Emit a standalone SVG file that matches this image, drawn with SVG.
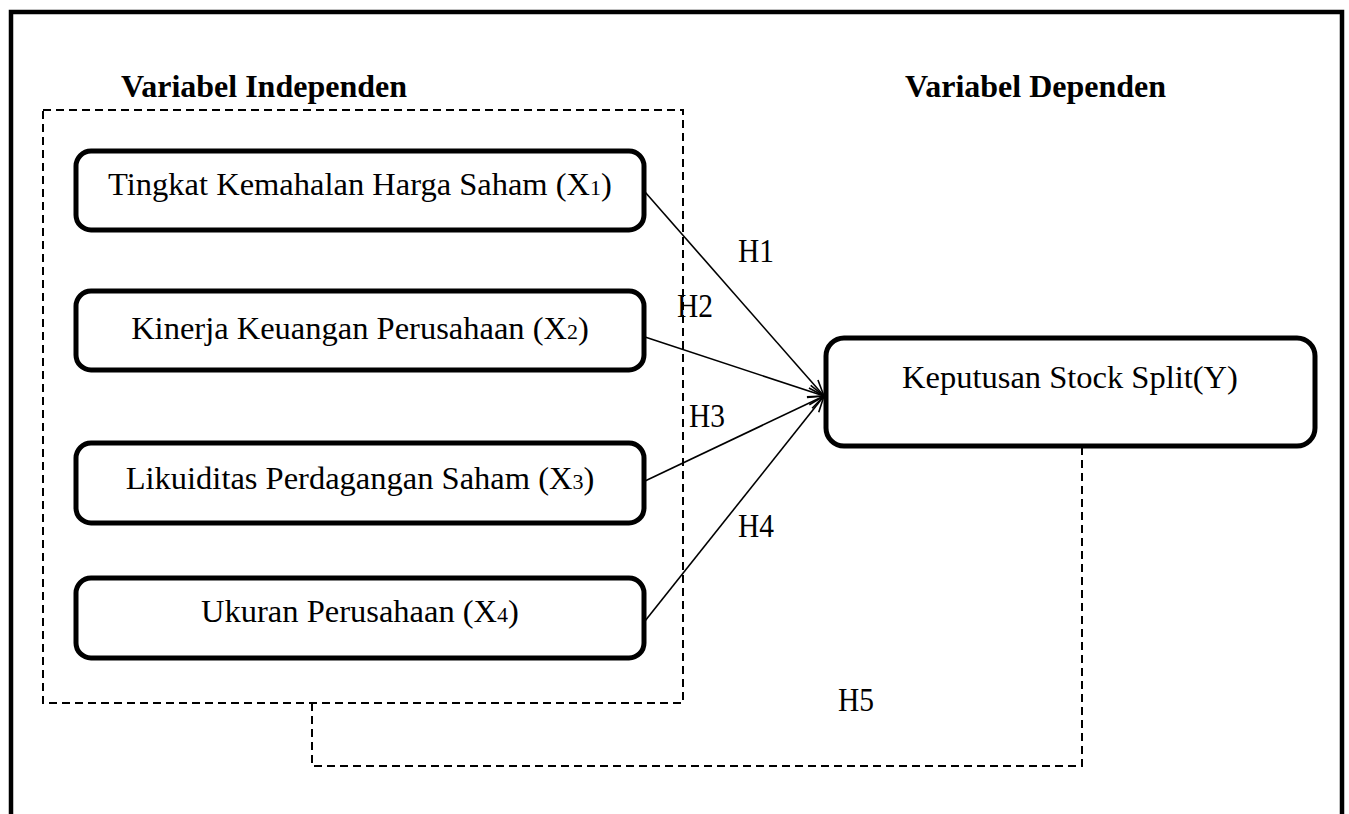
<svg xmlns="http://www.w3.org/2000/svg" width="1349" height="814" viewBox="0 0 1349 814">
<style>
  text { font-family: "Liberation Serif", "Times New Roman", serif; fill: #000; }
  .title { font-size: 32px; font-weight: bold; }
  .lbl { font-size: 32.5px; text-anchor: middle; }
  .sub { font-size: 22px; }
  .h { font-size: 33px; }
  .node { fill: #fff; stroke: #000; stroke-width: 5; }
  .dash { fill: none; stroke: #000; stroke-width: 2; stroke-dasharray: 8 5; }
  .arrow { fill: none; stroke: #000; stroke-width: 1.6; marker-end: url(#open); }
</style>
<defs>
  <marker id="open" viewBox="0 0 20 20" refX="18" refY="10" markerWidth="20" markerHeight="20" markerUnits="userSpaceOnUse" orient="auto">
    <path d="M2,4 L18,10 L2,16" fill="none" stroke="#000" stroke-width="1.6"/>
  </marker>
</defs>
<rect width="1349" height="814" fill="#fff"/>
<path d="M11,816 L11,12 L1342,12 L1342,816" fill="none" stroke="#000" stroke-width="4.5"/>
<text class="title" x="121" y="97">Variabel Independen</text>
<text class="title" x="905" y="97">Variabel Dependen</text>
<rect id="group-independen" class="dash" x="43" y="110" width="640" height="593"/>
<g id="connectors">
  <line class="arrow" x1="645" y1="192" x2="824" y2="396"/>
  <line class="arrow" x1="645" y1="337" x2="824" y2="396"/>
  <line class="arrow" x1="645" y1="481" x2="824" y2="396"/>
  <line class="arrow" x1="645" y1="621" x2="824" y2="396"/>
  <path class="dash" d="M312,703 L312,766 L1082,766 L1082,447"/>
  <text class="h" x="738" y="262" textLength="36" lengthAdjust="spacingAndGlyphs">H1</text>
  <text class="h" x="677" y="317" textLength="36" lengthAdjust="spacingAndGlyphs">H2</text>
  <text class="h" x="689" y="427" textLength="36" lengthAdjust="spacingAndGlyphs">H3</text>
  <text class="h" x="738" y="537" textLength="36" lengthAdjust="spacingAndGlyphs">H4</text>
  <text class="h" x="838" y="711" textLength="36" lengthAdjust="spacingAndGlyphs">H5</text>
</g>
<g id="x1">
  <rect class="node" x="76" y="151" width="568" height="79" rx="15"/>
  <text class="lbl" x="360" y="195">Tingkat Kemahalan Harga Saham (X<tspan class="sub">1</tspan>)</text>
</g>
<g id="x2">
  <rect class="node" x="76" y="291" width="568" height="79" rx="15"/>
  <text class="lbl" x="360" y="339">Kinerja Keuangan Perusahaan (X<tspan class="sub">2</tspan>)</text>
</g>
<g id="x3">
  <rect class="node" x="76" y="443" width="568" height="80" rx="15"/>
  <text class="lbl" x="360" y="489">Likuiditas Perdagangan Saham (X<tspan class="sub">3</tspan>)</text>
</g>
<g id="x4">
  <rect class="node" x="76" y="578" width="568" height="80" rx="15"/>
  <text class="lbl" x="360" y="622">Ukuran Perusahaan (X<tspan class="sub">4</tspan>)</text>
</g>
<g id="y">
  <rect class="node" x="826" y="338" width="489" height="108" rx="18"/>
  <text class="lbl" x="1070" y="388">Keputusan Stock Split(Y)</text>
</g>
</svg>
